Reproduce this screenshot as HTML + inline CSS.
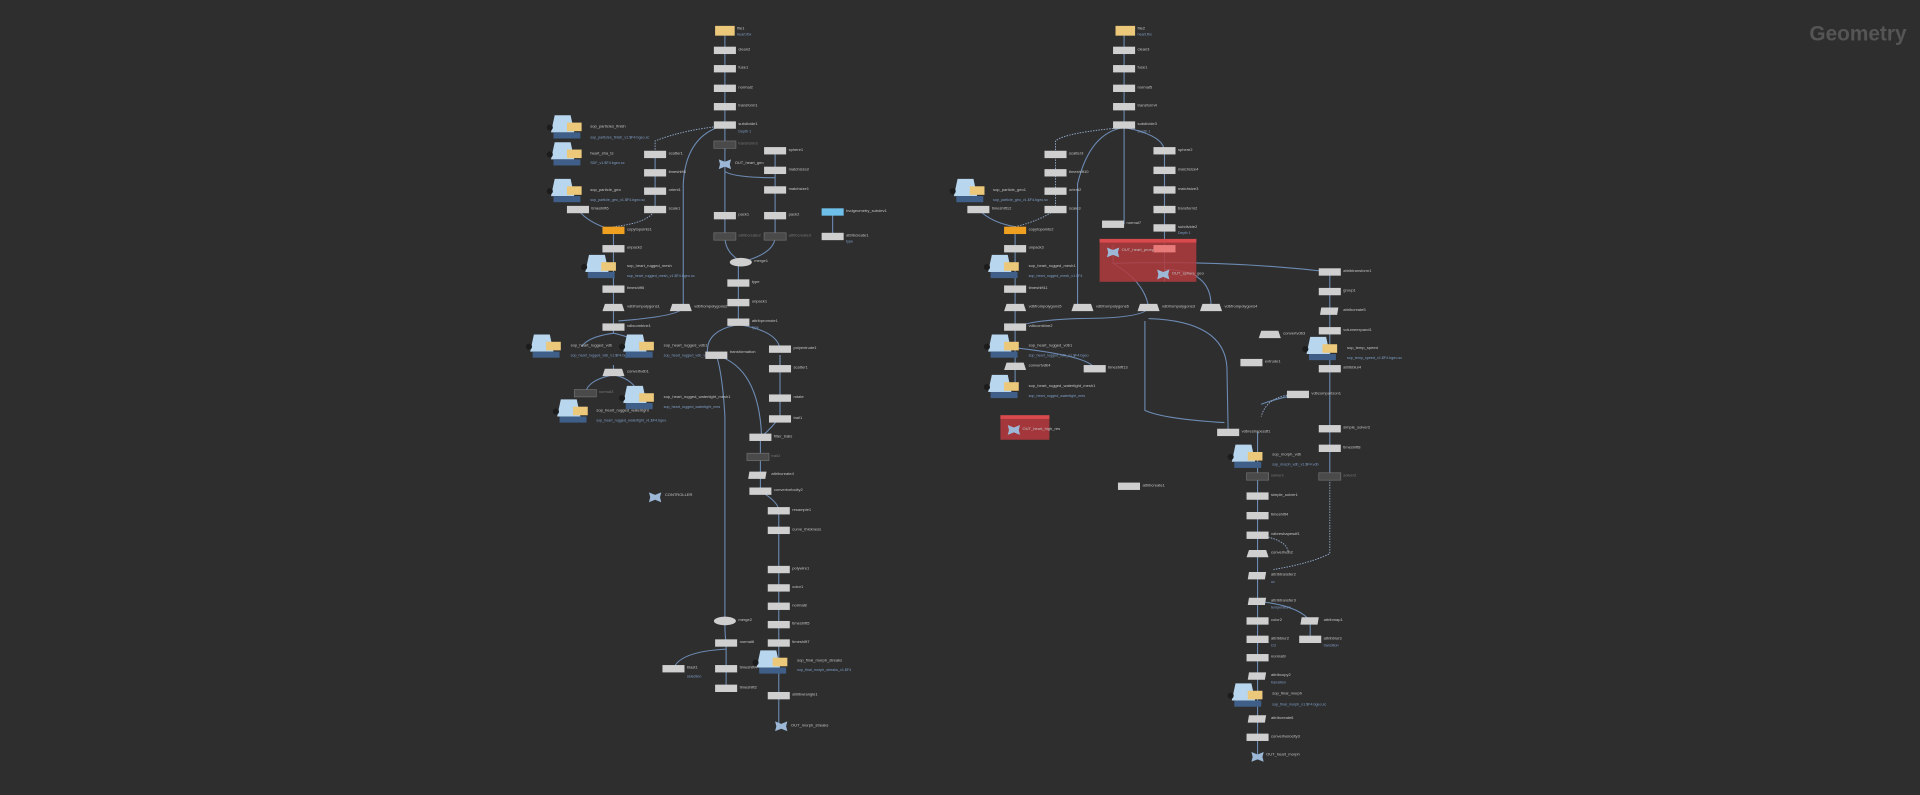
<!DOCTYPE html>
<html><head><meta charset="utf-8"><style>
html,body{margin:0;padding:0;background:#2e2e2e;width:1920px;height:795px;overflow:hidden}
svg{display:block}
text{font-family:"Liberation Sans",sans-serif;font-size:3.3px;fill:#c4c4c4}
.s{fill:#7f9fc8;font-size:3px}
.g{fill:#777}
.w{fill:none;stroke:#6c8ab3;stroke-width:0.9}
.d{fill:none;stroke:#8fa6c4;stroke-width:0.8;stroke-dasharray:1.2 1}
.n{fill:#cfcfcf}
.dim{fill:#4a4a4a;stroke:#777;stroke-width:0.5}
</style></head><body>
<svg width="1920" height="795" viewBox="0 0 1568 649" xmlns="http://www.w3.org/2000/svg">
<defs>
<g id="fc"><path d="M-10,-10 h13 l3,14 h-19 z" fill="#b8d6ee"/><rect x="-11" y="4" width="22" height="5" fill="#3f5f88"/><rect x="0" y="-4" width="12" height="7" fill="#ecc87a"/><circle cx="-14" cy="0" r="2.5" fill="#1c1c1c"/></g>
<g id="nul"><path d="M-5,-4 l5,2 l5,-2 l-1,4 l1,4 l-5,-2 l-5,2 l1,-4z" fill="#9cb8d6"/></g>
</defs>
<rect width="1568" height="649" fill="#2e2e2e"/>
<text x="1557" y="33" text-anchor="end" style="font-size:17px;font-weight:bold;fill:#555">Geometry</text>

<path class="w" d="M592,25V134M592,134V176M592,140Q600,145 633,145V176M633,123V155M592,176V193Q592,205 603,212M633,176V193Q633,205 612,212M603,214V263M603,265Q575,270 578,290M603,265Q635,270 637,285M585,290Q590,305 592,340V507M585,290Q620,300 622,357M637,290V340Q630,350 621,357M621,357V401Q636,410 636,417V541M636,525V568V593M592,507Q592,520 593,525V562M593,530Q555,532 550,546M680,173V193"/>
<path class="d" d="M637,290V301M598,102Q560,105 535,115V126M535,171Q530,182 501,185"/>
<path class="w" d="M535,126V171M592,102Q560,110 558,150V251Q556,258 505,262M472,171Q480,182 501,188M501,188V267M501,251V272Q480,275 475,283M501,272Q520,276 522,283M501,298V304M501,306Q480,310 478,321M501,306Q520,310 522,325"/>

<g>
<rect x="584" y="21" width="16" height="8" fill="#ecc87a"/><text x="602" y="24">file1</text><text class="s" x="602" y="29">heart.fbx</text>
<rect class="n" x="583" y="38" width="18" height="6"/><text x="603" y="41">clean2</text>
<rect class="n" x="583" y="53" width="18" height="6"/><text x="603" y="56">fuse1</text>
<rect class="n" x="583" y="69" width="18" height="6"/><text x="603" y="72">normal2</text>
<rect class="n" x="583" y="84" width="18" height="6"/><text x="603" y="87">transform1</text>
<rect class="n" x="583" y="99" width="18" height="6"/><text x="603" y="102">subdivide1</text><text class="s" x="603" y="108">Depth 1</text>
<rect class="dim" x="583" y="115" width="18" height="6"/><text class="g" x="603" y="118">transform3</text>
<use href="#nul" x="592" y="134"/><text x="600" y="134">OUT_heart_geo</text>
<rect class="n" x="583" y="173" width="18" height="6"/><text x="603" y="176">pack1</text>
<rect class="n" x="624" y="173" width="18" height="6"/><text x="644" y="176">pack2</text>
<rect class="n" x="624" y="120" width="18" height="6"/><text x="644" y="123">sphere1</text>
<rect class="n" x="624" y="136" width="18" height="6"/><text x="644" y="139">matchsize2</text>
<rect class="n" x="624" y="152" width="18" height="6"/><text x="644" y="155">matchsize1</text>
<rect class="dim" x="583" y="190" width="18" height="6"/><text class="g" x="603" y="193">attribcreate2</text>
<rect class="dim" x="624" y="190" width="18" height="6"/><text class="g" x="644" y="193">attribcreate3</text>
<rect x="671" y="170" width="18" height="6" fill="#6ec0ea"/><text x="691" y="173">bvdgeometry_subdev1</text>
<rect class="n" x="671" y="190" width="18" height="6"/><text x="691" y="193">attribcreate1</text><text class="s" x="691" y="198">type</text>
<ellipse class="n" cx="605" cy="214" rx="9" ry="3.5"/><text x="616" y="214">merge1</text>
<rect class="n" x="594" y="228" width="18" height="6"/><text x="614" y="231">type</text>
<rect class="n" x="594" y="244" width="18" height="6"/><text x="614" y="247">unpack1</text>
<rect class="n" x="594" y="260" width="18" height="6"/><text x="614" y="263">attribpromote1</text><text class="s" x="614" y="268">type</text>
<rect class="n" x="526" y="123" width="18" height="6"/><text x="546" y="126">scatter1</text>
<rect class="n" x="526" y="138" width="18" height="6"/><text x="546" y="141">timeshift8</text>
<rect class="n" x="526" y="153" width="18" height="6"/><text x="546" y="156">orient1</text>
<rect class="n" x="526" y="168" width="18" height="6"/><text x="546" y="171">scale1</text>
<use href="#fc" x="463" y="104"/><text x="482" y="104">sop_particles_finish</text><text class="s" x="482" y="113">sop_particles_finish_v1.$F4.bgeo.sc</text>
<use href="#fc" x="463" y="126"/><text x="482" y="126">heart_sha_ts</text><text class="s" x="482" y="134">SDF_v1.$F4.bgeo.sc</text>
<use href="#fc" x="463" y="156"/><text x="482" y="156">sop_particle_geo</text><text class="s" x="482" y="164">sop_particle_geo_v1.$F4.bgeo.sc</text>
<rect class="n" x="463" y="168" width="18" height="6"/><text x="483" y="171">timeshift6</text>
<rect x="492" y="185" width="18" height="6" fill="#f0a020"/><text x="512" y="188">copytopoints1</text>
<rect class="n" x="492" y="200" width="18" height="6"/><text x="512" y="203">unpack2</text>
<use href="#fc" x="491" y="218"/><text x="512" y="218">sop_heart_rugged_mesh</text><text class="s" x="512" y="226">sop_heart_rugged_mesh_v1.$F4.bgeo.sc</text>
<rect class="n" x="492" y="233" width="18" height="6"/><text x="512" y="236">timeshift5</text>
<path class="n" d="M494,248h14l2,6h-18z"/><text x="512" y="251">vdbfrompolygons1</text>
<path class="n" d="M549,248h14l2,6h-18z"/><text x="567" y="251">vdbfrompolygons2</text>
<rect class="n" x="492" y="264" width="18" height="6"/><text x="512" y="267">vdbcombine1</text>
<use href="#fc" x="446" y="283"/><text x="466" y="283">sop_heart_rugged_vdb</text><text class="s" x="466" y="291">sop_heart_rugged_vdb_v1.$F4.bgeo</text>
<use href="#fc" x="522" y="283"/><text x="542" y="283">sop_heart_rugged_vdb1</text><text class="s" x="542" y="291">sop_heart_rugged_vdb_v1.$F4</text>
<path class="n" d="M494,301h14l2,6h-18z"/><text x="512" y="304">convertvdb1</text>
<rect class="dim" x="469" y="318" width="18" height="6"/><text class="g" x="489" y="321">normal3</text>
<use href="#fc" x="468" y="336"/><text x="487" y="336">sop_heart_rugged_watertight</text><text class="s" x="487" y="344">sop_heart_rugged_watertight_v1.$F4.bgeo</text>
<use href="#fc" x="522" y="325"/><text x="542" y="325">sop_heart_rugged_watertight_mesh1</text><text class="s" x="542" y="333">sop_heart_rugged_watertight_mes</text>
<use href="#nul" x="535" y="406"/><text x="543" y="405">CONTROLLER</text>
<rect class="n" x="576" y="287" width="18" height="6"/><text x="596" y="288">transformation</text>
<rect class="n" x="628" y="282" width="18" height="6"/><text x="648" y="285">polyextrude1</text>
<rect class="n" x="628" y="298" width="18" height="6"/><text x="648" y="301">scatter1</text>
<rect class="n" x="628" y="322" width="18" height="6"/><text x="648" y="325">rotate</text>
<rect class="n" x="628" y="339" width="18" height="6"/><text x="648" y="342">trail1</text>
<rect class="n" x="612" y="354" width="18" height="6"/><text x="632" y="357">filter_trails</text>
<rect class="dim" x="610" y="370" width="18" height="6"/><text class="g" x="630" y="373">trail2</text>
<path class="n" d="M612,385h14l-1,6h-14z"/><text x="630" y="388">attribcreate4</text>
<rect class="n" x="612" y="398" width="18" height="6"/><text x="632" y="401">convertvelocity2</text>
<rect class="n" x="627" y="414" width="18" height="6"/><text x="647" y="417">resample1</text>
<rect class="n" x="627" y="430" width="18" height="6"/><text x="647" y="433">curve_thickness</text>
<rect class="n" x="627" y="462" width="18" height="6"/><text x="647" y="465">polywire1</text>
<rect class="n" x="627" y="477" width="18" height="6"/><text x="647" y="480">color1</text>
<rect class="n" x="627" y="492" width="18" height="6"/><text x="647" y="495">normal8</text>
<rect class="n" x="627" y="507" width="18" height="6"/><text x="647" y="510">timeshift5</text>
<rect class="n" x="627" y="522" width="18" height="6"/><text x="647" y="525">timeshift7</text>
<use href="#fc" x="631" y="541"/><text x="651" y="540">sop_final_morph_streaks</text><text class="s" x="651" y="548">sop_final_morph_streaks_v1.$F4</text>
<rect class="n" x="627" y="565" width="18" height="6"/><text x="647" y="568">attribwrangle1</text>
<use href="#nul" x="638" y="593"/><text x="646" y="593">OUT_morph_streaks</text>
<ellipse class="n" cx="592" cy="507" rx="9" ry="3.5"/><text x="603" y="507">merge2</text>
<rect class="n" x="584" y="522" width="18" height="6"/><text x="604" y="525">normal6</text>
<rect class="n" x="584" y="543" width="18" height="6"/><text x="604" y="546">timeshift4</text>
<rect class="n" x="584" y="559" width="18" height="6"/><text x="604" y="562">timeshift2</text>
<rect class="n" x="541" y="543" width="18" height="6"/><text x="561" y="546">blast1</text><text class="s" x="561" y="553">selection</text>
</g>

<path class="w" d="M918,25V102M918,104Q890,108 880,150V251M918,104V183M918,104Q950,110 951,123V200M951,200V230M909,200V215Q935,230 938,251M951,220Q990,220 989,251M829,188V316M799,171Q810,182 829,185M938,251Q935,260 880,260Q829,262 829,270M938,260Q1000,262 1002,300Q1003,350 1003,353M909,215Q1000,212 1086,222V301M1086,301V389M1027,353V618M1027,491Q1060,494 1070,507V522M1086,338V350M820,283Q890,290 894,301M935,262V335Q950,342 1000,345M1060,322Q1040,326 1030,330"/>
<path class="d" d="M918,104Q870,108 862,115V171M862,171Q850,180 829,185M1086,389V452Q1070,460 1040,465M1060,322Q1035,322 1030,340M1027,437Q1050,440 1052,450"/>
<g>
<rect x="911" y="21" width="16" height="8" fill="#ecc87a"/><text x="929" y="24">file2</text><text class="s" x="929" y="29">heart.fbx</text>
<rect class="n" x="909" y="38" width="18" height="6"/><text x="929" y="41">clean3</text>
<rect class="n" x="909" y="53" width="18" height="6"/><text x="929" y="56">fuse1</text>
<rect class="n" x="909" y="69" width="18" height="6"/><text x="929" y="72">normal5</text>
<rect class="n" x="909" y="84" width="18" height="6"/><text x="929" y="87">transform4</text>
<rect class="n" x="909" y="99" width="18" height="6"/><text x="929" y="102">subdivide3</text><text class="s" x="929" y="108">Depth 1</text>
<rect class="n" x="942" y="120" width="18" height="6"/><text x="962" y="123">sphere2</text>
<rect class="n" x="942" y="136" width="18" height="6"/><text x="962" y="139">matchsize4</text>
<rect class="n" x="942" y="152" width="18" height="6"/><text x="962" y="155">matchsize3</text>
<rect class="n" x="942" y="168" width="18" height="6"/><text x="962" y="171">transform2</text>
<rect class="n" x="942" y="183" width="18" height="6"/><text x="962" y="186">subdivide2</text><text class="s" x="962" y="191">Depth 1</text>
<rect class="n" x="853" y="123" width="18" height="6"/><text x="873" y="126">scatter3</text>
<rect class="n" x="853" y="138" width="18" height="6"/><text x="873" y="141">timeshift10</text>
<rect class="n" x="853" y="153" width="18" height="6"/><text x="873" y="156">orient2</text>
<rect class="n" x="853" y="168" width="18" height="6"/><text x="873" y="171">scale3</text>
<rect class="n" x="900" y="180" width="18" height="6"/><text x="920" y="183">normal7</text>
<rect x="898" y="195" width="79" height="35" fill="#b0393d" opacity="0.85"/><rect x="898" y="195" width="79" height="3" fill="#d84a4e"/>
<use href="#nul" x="909" y="206"/><text x="916" y="205">OUT_heart_proxy</text>
<use href="#nul" x="950" y="224"/><text x="957" y="224">OUT_sphere_geo</text>
<rect x="942" y="200" width="18" height="6" fill="#e87a7a"/>
<use href="#fc" x="792" y="156"/><text x="811" y="156">sop_particle_geo1</text><text class="s" x="811" y="164">sop_particle_geo_v1.$F4.bgeo.sc</text>
<rect class="n" x="790" y="168" width="18" height="6"/><text x="810" y="171">timeshift12</text>
<rect x="820" y="185" width="18" height="6" fill="#f0a020"/><text x="840" y="188">copytopoints2</text>
<rect class="n" x="820" y="200" width="18" height="6"/><text x="840" y="203">unpack3</text>
<use href="#fc" x="820" y="218"/><text x="840" y="218">sop_heart_rugged_mesh1</text><text class="s" x="840" y="226">sop_heart_rugged_mesh_v1.$F4</text>
<rect class="n" x="820" y="233" width="18" height="6"/><text x="840" y="236">timeshift11</text>
<path class="n" d="M822,248h14l2,6h-18z"/><text x="840" y="251">vdbfrompolygons5</text>
<path class="n" d="M877,248h14l2,6h-18z"/><text x="895" y="251">vdbfrompolygons6</text>
<path class="n" d="M931,248h14l2,6h-18z"/><text x="949" y="251">vdbfrompolygons3</text>
<path class="n" d="M982,248h14l2,6h-18z"/><text x="1000" y="251">vdbfrompolygons4</text>
<rect class="n" x="820" y="264" width="18" height="6"/><text x="840" y="267">vdbcombine2</text>
<use href="#fc" x="820" y="283"/><text x="840" y="283">sop_heart_rugged_vdb1</text><text class="s" x="840" y="291">sop_heart_rugged_vdb_v1.$F4.bgeo</text>
<path class="n" d="M822,296h14l2,6h-18z"/><text x="840" y="299">convertvdb4</text>
<rect class="n" x="885" y="298" width="18" height="6"/><text x="905" y="301">timeshift13</text>
<use href="#fc" x="820" y="316"/><text x="840" y="316">sop_heart_rugged_watertight_mesh1</text><text class="s" x="840" y="324">sop_heart_rugged_watertight_mes</text>
<rect x="817" y="339" width="40" height="20" fill="#b0393d" opacity="0.9"/><rect x="817" y="339" width="40" height="3" fill="#d84a4e"/>
<use href="#nul" x="828" y="351"/><text x="835" y="351">OUT_heart_high_res</text>
<path class="n" d="M1030,270h14l2,6h-18z"/><text x="1048" y="273">convertvdb3</text>
<rect class="n" x="1013" y="293" width="18" height="6"/><text x="1033" y="296">extrude1</text>
<rect class="n" x="1077" y="219" width="18" height="6"/><text x="1097" y="222">attribtransform1</text>
<rect class="n" x="1077" y="235" width="18" height="6"/><text x="1097" y="238">group1</text>
<path class="n" d="M1079,251h14l-1,6h-14z"/><text x="1097" y="254">attribcreate5</text>
<rect class="n" x="1077" y="267" width="18" height="6"/><text x="1097" y="270">volumeexpand1</text>
<use href="#fc" x="1080" y="285"/><text x="1100" y="285">sop_temp_speed</text><text class="s" x="1100" y="293">sop_temp_speed_v1.$F4.bgeo.sc</text>
<rect class="n" x="1077" y="298" width="18" height="6"/><text x="1097" y="301">attribblur4</text>
<rect class="n" x="1051" y="319" width="18" height="6"/><text x="1071" y="322">vdbcomparison1</text>
<rect class="n" x="1077" y="347" width="18" height="6"/><text x="1097" y="350">simple_solver2</text>
<rect class="n" x="1077" y="363" width="18" height="6"/><text x="1097" y="366">timeshift8</text>
<rect class="dim" x="1077" y="386" width="18" height="6"/><text class="g" x="1097" y="389">solver2</text>
<rect class="n" x="994" y="350" width="18" height="6"/><text x="1014" y="353">vdbreshapesdf1</text>
<use href="#fc" x="1019" y="373"/><text x="1039" y="372">sop_morph_vdb</text><text class="s" x="1039" y="380">sop_morph_vdb_v1.$F4.vdb</text>
<rect class="dim" x="1018" y="386" width="18" height="6"/><text class="g" x="1038" y="389">solver1</text>
<rect class="n" x="1018" y="402" width="18" height="6"/><text x="1038" y="405">simple_solver1</text>
<rect class="n" x="1018" y="418" width="18" height="6"/><text x="1038" y="421">timeshift4</text>
<rect class="n" x="1018" y="434" width="18" height="6"/><text x="1038" y="437">vdbreshapesdf1</text>
<path class="n" d="M1020,449h14l2,6h-18z"/><text x="1038" y="452">convertvdb2</text>
<path class="n" d="M1020,467h14l-1,6h-14z"/><text x="1038" y="470">attribtransfer2</text><text class="s" x="1038" y="476">uv</text>
<path class="n" d="M1020,488h14l-1,6h-14z"/><text x="1038" y="491">attribtransfer3</text><text class="s" x="1038" y="497">temperature</text>
<rect class="n" x="1018" y="504" width="18" height="6"/><text x="1038" y="507">color2</text>
<path class="n" d="M1063,504h14l-1,6h-14z"/><text x="1081" y="507">attribmap1</text>
<rect class="n" x="1018" y="519" width="18" height="6"/><text x="1038" y="522">attribblur2</text><text class="s" x="1038" y="528">Cd</text>
<rect class="n" x="1061" y="519" width="18" height="6"/><text x="1081" y="522">attribblur3</text><text class="s" x="1081" y="528">transition</text>
<rect class="n" x="1018" y="534" width="18" height="6"/><text x="1038" y="537">normal9</text>
<path class="n" d="M1020,549h14l-1,6h-14z"/><text x="1038" y="552">attribcopy2</text><text class="s" x="1038" y="558">transition</text>
<use href="#fc" x="1019" y="568"/><text x="1039" y="567">sop_final_morph</text><text class="s" x="1039" y="576">sop_final_morph_v1.$F4.bgeo.sc</text>
<path class="n" d="M1020,584h14l-1,6h-14z"/><text x="1038" y="587">attribcreate6</text>
<rect class="n" x="1018" y="599" width="18" height="6"/><text x="1038" y="602">convertvelocity3</text>
<use href="#nul" x="1027" y="618"/><text x="1034" y="617">OUT_heart_morph</text>
<rect class="n" x="913" y="394" width="18" height="6"/><text x="933" y="397">attribcreate1</text>
</g>
</svg>
</body></html>
